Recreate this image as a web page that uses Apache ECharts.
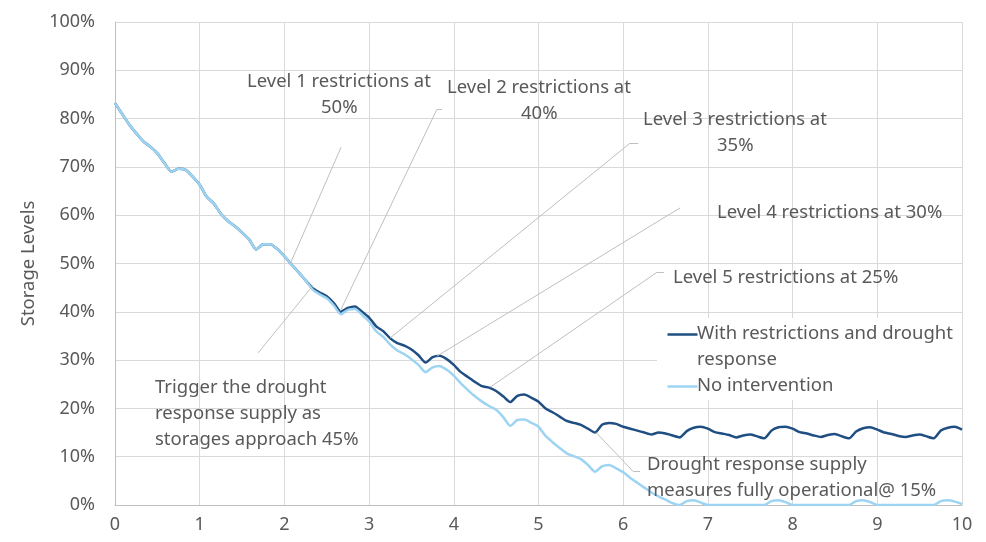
<!DOCTYPE html>
<html>
<head>
<meta charset="utf-8">
<style>
  html, body { margin: 0; padding: 0; background: #fff; }
  #chart { width: 986px; height: 542px; }
</style>
<script src="https://cdn.jsdelivr.net/npm/echarts@6/dist/echarts.min.js"></script>
</head>
<body>
<div id="chart"></div>
<script>
// monthly values, years 0..10 (121 points each)
const withRestrictions = [
  83.2, 81.0, 78.8, 77.0, 75.3, 74.2, 72.8, 70.8, 69.0, 69.6, 69.4, 68.0,
  66.3, 63.8, 62.4, 60.3, 58.8, 57.7, 56.4, 55.0, 52.9, 54.0, 54.0, 53.0,
  51.5, 49.8, 48.2, 46.5, 44.9, 44.0, 43.2, 41.8, 40.0, 40.8, 41.1, 40.0,
  38.8, 37.0, 36.0, 34.5, 33.5, 33.0, 32.2, 31.0, 29.5, 30.6, 30.9, 30.2,
  29.0, 27.5, 26.5, 25.5, 24.6, 24.3, 23.6, 22.5, 21.3, 22.6, 22.9, 22.2,
  21.4, 20.0, 19.2, 18.3, 17.4, 17.0, 16.6, 15.8, 15.0, 16.6, 17.0, 16.8,
  16.2, 15.8, 15.4, 15.0, 14.6, 15.0, 14.8, 14.4, 14.0, 15.3, 16.0, 16.2,
  15.8, 15.1, 14.8, 14.5, 14.0, 14.4, 14.6, 14.2, 13.8, 15.4, 16.1, 16.2,
  15.8, 15.1, 14.8, 14.4, 14.1, 14.5, 14.7, 14.2, 13.8, 15.2, 15.9, 16.1,
  15.6, 15.0, 14.7, 14.3, 14.1, 14.4, 14.6, 14.2, 13.8, 15.4, 16.0, 16.2,
  15.6
]
const noIntervention = [
  83.2, 81.0, 78.8, 77.0, 75.3, 74.2, 72.8, 70.8, 69.0, 69.6, 69.4, 68.0,
  66.3, 63.8, 62.4, 60.3, 58.8, 57.7, 56.4, 55.0, 52.9, 54.0, 54.0, 53.0,
  51.5, 49.8, 48.2, 46.5, 44.6, 43.6, 42.8, 41.3, 39.5, 40.4, 40.6, 39.4,
  38.0, 36.0, 34.8, 33.2, 32.0, 31.2, 30.2, 29.0, 27.5, 28.5, 28.8, 28.0,
  26.8, 25.2, 23.8, 22.5, 21.4, 20.5, 19.7, 18.2, 16.4, 17.6, 17.7, 17.0,
  16.2, 14.3, 13.0, 11.8, 10.7, 10.1, 9.5, 8.3, 6.9, 8.0, 8.3, 7.6,
  6.8, 5.6, 4.6, 3.6, 2.6, 1.8, 1.1, 0.4, 0.0, 0.8, 1.0, 0.5,
  0.0, 0.0, 0.0, 0.0, 0.0, 0.0, 0.0, 0.0, 0.0, 0.8, 1.0, 0.6,
  0.0, 0.0, 0.0, 0.0, 0.0, 0.0, 0.0, 0.0, 0.0, 0.8, 1.0, 0.6,
  0.0, 0.0, 0.0, 0.0, 0.0, 0.0, 0.0, 0.0, 0.0, 0.8, 1.0, 0.7,
  0.2
]
const xTicks = [0, 1, 2, 3, 4, 5, 6, 7, 8, 9, 10]
const yTicks = [0, 10, 20, 30, 40, 50, 60, 70, 80, 90, 100]

// callout leader lines, in data units [year, %]
const leaderLines = [
  [[2.07, 50.0], [2.67, 74.1]],
  [[2.66, 40.2], [3.80, 81.9]],
  [[3.80, 81.9], [3.86, 81.9]],
  [[3.25, 34.6], [6.08, 74.9]],
  [[6.08, 74.9], [6.18, 74.9]],
  [[3.80, 30.8], [6.67, 61.5]],
  [[4.43, 24.4], [6.40, 48.2]],
  [[6.40, 48.2], [6.48, 48.2]],
  [[1.69, 31.5], [2.34, 45.5]],
  [[5.68, 15.0], [6.12, 6.9]],
  [[6.12, 6.9], [6.20, 6.9]]
]

const textColor = '#595959'
const darkBlue = '#1f4e82'
const lightBlue = '#9dd4f2'
const font = 'Noto Sans'
const textFont = '18.5px "' + font + '"'

const toXY = (arr) => arr.map((v, i) => [i / 12, v])

const chart = echarts.init(document.getElementById('chart'))

const calloutText = (left, top, text) => ({
  type: 'text',
  left: left,
  top: top,
  z: 50,
  style: {
    text: text,
    fill: textColor,
    font: textFont,
    lineHeight: 26
  }
})

chart.setOption({
  animation: false,
  grid: { left: 115, right: 24, top: 22, bottom: 37 },
  xAxis: {
    type: 'value',
    min: 0,
    max: 10,
    interval: 1,
    axisLine: { lineStyle: { color: '#bfbfbf' } },
    axisTick: { show: false },
    axisLabel: {
      color: textColor, fontSize: 18, fontFamily: font, margin: 11,
      formatter: (v) => xTicks.includes(v) ? String(v) : ''
    },
    splitLine: { lineStyle: { color: '#d9d9d9' } }
  },
  yAxis: {
    type: 'value',
    min: 0,
    max: 100,
    interval: 10,
    name: 'Storage Levels',
    nameLocation: 'middle',
    nameGap: 72,
    nameTextStyle: { color: textColor, fontSize: 18.5, fontFamily: font },
    axisLine: { show: true, lineStyle: { color: '#bfbfbf' } },
    axisTick: { show: false },
    axisLabel: {
      color: textColor, fontSize: 18, fontFamily: font, margin: 20,
      formatter: (v) => yTicks.includes(v) ? v + '%' : ''
    },
    splitLine: { lineStyle: { color: '#d9d9d9' } }
  },
  series: [
    {
      name: 'With restrictions and drought response',
      type: 'line',
      data: toXY(withRestrictions),
      showSymbol: false,
      smooth: 0.2,
      lineStyle: { color: darkBlue, width: 2.5 },
      itemStyle: { color: darkBlue },
      z: 3,
      markLine: {
        silent: true,
        symbol: ['none', 'none'],
        label: { show: false },
        lineStyle: { color: '#bfbfbf', width: 1, type: 'solid' },
        data: leaderLines.map(([a, b]) => [{ coord: a }, { coord: b }])
      }
    },
    {
      name: 'No intervention',
      type: 'line',
      data: toXY(noIntervention),
      showSymbol: false,
      smooth: 0.2,
      lineStyle: { color: lightBlue, width: 2.5 },
      itemStyle: { color: lightBlue },
      z: 4
    }
  ],
  graphic: [
    calloutText(247, 69, 'Level 1 restrictions at'),
    calloutText(321, 95, '50%'),
    calloutText(447, 75, 'Level 2 restrictions at'),
    calloutText(521, 101, '40%'),
    calloutText(643, 107, 'Level 3 restrictions at'),
    calloutText(717, 133, '35%'),
    calloutText(717, 200, 'Level 4 restrictions at 30%'),
    calloutText(673, 265, 'Level 5 restrictions at 25%'),
    calloutText(155, 375, 'Trigger the drought\nresponse supply as\nstorages approach 45%'),
    calloutText(647, 452, 'Drought response supply\nmeasures fully operational@ 15%'),
    // legend box (white background hides the grid behind it)
    { type: 'rect', left: 657, top: 318, z: 100, shape: { width: 305, height: 82 }, style: { fill: '#fff' } },
    { type: 'line', left: 665, top: 332, z: 101, shape: { x1: 0, y1: 0, x2: 30, y2: 0 }, style: { stroke: darkBlue, lineWidth: 2.5 } },
    { type: 'text', left: 697, top: 324, z: 101, style: { text: 'With restrictions and drought', fill: textColor, font: textFont } },
    { type: 'text', left: 697, top: 350, z: 101, style: { text: 'response', fill: textColor, font: textFont } },
    { type: 'line', left: 665, top: 384, z: 101, shape: { x1: 0, y1: 0, x2: 30, y2: 0 }, style: { stroke: lightBlue, lineWidth: 2.5 } },
    { type: 'text', left: 697, top: 376, z: 101, style: { text: 'No intervention', fill: textColor, font: textFont } }
  ]
})
</script>
</body>
</html>
